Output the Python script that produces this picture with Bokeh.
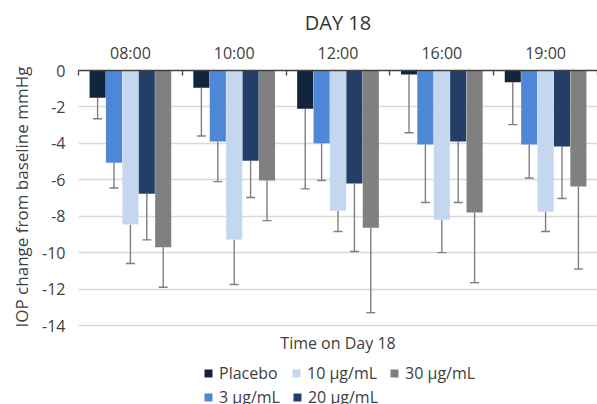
import numpy as np
from bokeh.plotting import figure
from bokeh.models import (ColumnDataSource, Range1d, LinearAxis, FixedTicker,
                          Whisker, TeeHead, Legend, LegendItem, Label, Title)
from bokeh.embed import file_html
from bokeh.resources import INLINE

# ---- data ----
times = ["08:00", "10:00", "12:00", "16:00", "19:00"]
doses = ["Placebo", "3 µg/mL", "10 µg/mL", "20 µg/mL", "30 µg/mL"]

placebo = [-1.5, -0.95, -2.1, -0.22, -0.64]
d3 = [-5.06, -3.9, -4.0, -4.06, -4.06]
d10 = [-8.45, -9.28, -7.7, -8.2, -7.75]
d20 = [-6.77, -4.95, -6.2, -3.9, -4.17]
d30 = [-9.7, -6.04, -8.63, -7.8, -6.37]

sd_placebo = [1.15, 2.65, 4.4, 3.2, 2.33]
sd_d3 = [1.39, 2.2, 2.04, 3.19, 1.84]
sd_d10 = [2.15, 2.47, 1.14, 1.8, 1.09]
sd_d20 = [2.53, 2.02, 3.74, 3.35, 2.86]
sd_d30 = [2.2, 2.2, 4.67, 3.85, 4.53]

y_ticks = [0, -2, -4, -6, -8, -10, -12, -14]
x_title = "Time on Day 18"
y_title = "IOP change from baseline mmHg"

series = [placebo, d3, d10, d20, d30]
sds = [sd_placebo, sd_d3, sd_d10, sd_d20, sd_d30]
colors = ["#13243f", "#4d87d6", "#c4d7ef", "#233f68", "#808080"]

FONT = "Open Sans"
TXT = "#404040"

W, H = 597, 404
TOP = 70              # frame top in px
AXIS_BOTTOM_PX = 325  # where the lowest tick (-14) sits
frame_h = H - TOP
y_min = min(y_ticks)
y_lo = y_min * frame_h / (AXIS_BOTTOM_PX - TOP)

p = figure(width=W, height=H, output_backend="svg", toolbar_location=None,
           x_range=Range1d(0, len(times)), y_range=Range1d(y_lo, 0),
           x_axis_location=None, min_border_left=77, min_border_right=0,
           min_border_top=TOP, min_border_bottom=0)
p.outline_line_color = None
p.background_fill_color = "white"
p.border_fill_color = "white"

# title
p.title.text = "DAY 18"
p.title.align = "center"
p.title.text_font = FONT
p.title.text_font_size = "20px"
p.title.text_font_style = "normal"
p.title.text_color = "#333333"
p.title.standoff = 5

bar_w = 0.155
step = 0.158
base = np.arange(len(times)) + 0.5
renderers = []
for k, (vals, col) in enumerate(zip(series, colors)):
    xs = base + (k - 2) * step
    src = ColumnDataSource(dict(x=xs, top=vals))
    r = p.vbar(x="x", top="top", bottom=0, width=bar_w, source=src,
               fill_color=col, line_color=None)
    renderers.append(r)
for k, (vals, sd) in enumerate(zip(series, sds)):
    xs = base + (k - 2) * step
    low = [v - s for v, s in zip(vals, sd)]
    src = ColumnDataSource(dict(x=xs, top=vals, low=low))
    w = Whisker(source=src, base="x", upper="top", lower="low",
                dimension="height", line_color="#7f7f7f", line_width=1.4,
                upper_head=None,
                lower_head=TeeHead(size=9, line_color="#7f7f7f", line_width=1.4))
    p.add_layout(w)

# y axis
p.yaxis.ticker = FixedTicker(ticks=y_ticks)
p.yaxis.bounds = (y_min, 0)
p.yaxis.major_label_overrides = {t: str(t) for t in y_ticks}
p.yaxis.axis_line_color = None
p.yaxis.major_tick_line_color = None
p.yaxis.minor_tick_line_color = None
p.yaxis.major_label_text_font = FONT
p.yaxis.major_label_text_font_size = "16px"
p.yaxis.major_label_text_color = TXT
p.yaxis.major_label_standoff = 7

# y axis title, starting level with the lowest tick
p.add_layout(Title(text=y_title, align="left", offset=H - AXIS_BOTTOM_PX - 2,
                   text_font=FONT, text_font_size="17px", text_font_style="normal",
                   text_color=TXT, standoff=14), "left")

p.ygrid.ticker = FixedTicker(ticks=y_ticks)
p.ygrid.grid_line_color = "#d9d9d9"
p.ygrid.grid_line_width = 1.3
p.xgrid.grid_line_color = None

# top category axis
cat_pos = [i + 0.5 for i in range(len(times))]
bounds = [float(i) for i in range(len(times) + 1)]
xa = LinearAxis(ticker=FixedTicker(ticks=cat_pos, minor_ticks=bounds))
xa.major_label_overrides = {c: t for c, t in zip(cat_pos, times)}
xa.major_tick_line_color = None
xa.major_tick_in = 0
xa.major_tick_out = 0
xa.minor_tick_in = 5
xa.minor_tick_out = 0
xa.minor_tick_line_color = "#404040"
xa.minor_tick_line_width = 1.3
xa.axis_line_color = "#404040"
xa.axis_line_width = 1.5
xa.major_label_text_font = FONT
xa.major_label_text_font_size = "16px"
xa.major_label_text_color = TXT
xa.major_label_standoff = 7
p.add_layout(xa, "above")

# x axis title below the plot area
p.add_layout(Label(x=len(times) / 2, y=H - 342, x_units="data", y_units="screen",
                   text=x_title, text_align="center", text_baseline="middle",
                   text_font=FONT, text_font_size="16px", text_color=TXT))

# legends (two rows)
def make_legend(idx, loc):
    leg = Legend(items=[LegendItem(label=doses[i], renderers=[renderers[i]]) for i in idx],
                 orientation="horizontal", location=loc)
    leg.glyph_width = 10
    leg.glyph_height = 10
    leg.label_standoff = 6
    leg.label_width = 60
    leg.spacing = 12
    leg.padding = 0
    leg.margin = 0
    leg.border_line_color = None
    leg.background_fill_alpha = 0
    leg.label_text_font = FONT
    leg.label_text_font_size = "16px"
    leg.label_text_color = TXT
    return leg

p.add_layout(make_legend([0, 2, 4], (125, 20)), "center")
p.add_layout(make_legend([1, 3], (125, -4)), "center")

open("out.html", "w").write(file_html(p, INLINE))
